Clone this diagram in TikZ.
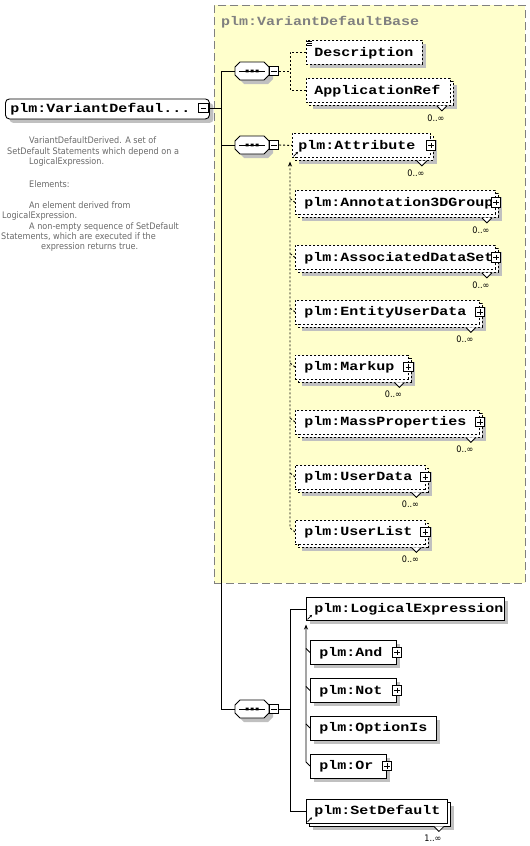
\documentclass[tikz,border=0pt]{standalone}
\usepackage{fontspec}
\newfontfamily\elfont[FakeStretch=1.2]{Liberation Mono}
\newfontfamily\smfont[FakeStretch=0.9]{DejaVu Sans}
\usetikzlibrary{shadows,arrows.meta}
\definecolor{grpfill}{RGB}{255,255,204}
\definecolor{grpline}{RGB}{128,128,128}
\definecolor{shd}{RGB}{192,192,192}
\definecolor{doctext}{RGB}{105,105,105}
\tikzset{
  elfnt/.style={font=\elfont\bfseries\fontsize{12.5pt}{14pt}\selectfont},
  el/.style={draw, fill=white, line width=0.9pt, rectangle, inner sep=0pt, anchor=north west, elfnt, text height=10pt, text depth=2.4pt},
  opt/.style={dash pattern=on 2pt off 2pt},
  shad/.style={drop shadow={shadow xshift=4pt, shadow yshift=-4pt, fill=shd, opacity=1, draw=none}},
  conn/.style={line width=0.9pt},
  pm/.style={draw, solid, fill=white, line width=0.8pt, minimum size=9.5pt, inner sep=0pt},
  plusbox/.style={pm, path picture={\draw[line width=0.8pt] ([xshift=2pt]path picture bounding box.west) -- ([xshift=-2pt]path picture bounding box.east) ([yshift=-2pt]path picture bounding box.north) -- ([yshift=2pt]path picture bounding box.south);}},
  minusbox/.style={pm, path picture={\draw[line width=0.8pt] ([xshift=2pt]path picture bounding box.west) -- ([xshift=-2pt]path picture bounding box.east);}},
  mult/.style={font=\smfont\fontsize{9pt}{10pt}\selectfont, inner sep=0pt},
  notch/.style={line width=0.8pt, fill=white, solid},
  doc/.style={font=\smfont\fontsize{9pt}{10pt}\selectfont, text=doctext, inner sep=0pt, anchor=base west},
  refmark/.style={line width=0.7pt, solid, -{Stealth[length=2.5pt,width=2.5pt]}},
  subarrow/.style={-{Stealth[length=5pt,width=4pt]}},
}
\newcommand\elbox[8][]{%
  \pgfmathsetmacro\bw{#5-#3}\pgfmathsetmacro\bh{#6-#4}\pgfmathsetmacro\tw{#5-#3-2*#7}%
  \node[el,minimum width=\bw pt,minimum height=\bh pt,inner xsep=#7pt,#1] (#2) at (#3,#4) {\makebox[\tw pt][l]{#8}};}
\newcommand\multibox[8][]{%
  \pgfmathsetmacro\bw{#5-#3}\pgfmathsetmacro\bh{#6-#4}\pgfmathsetmacro\tw{#5-#3-2*#7}%
  \node[el,shad,minimum width=\bw pt,minimum height=\bh pt,#1] (#2-bk) at (#3+3,#4+3) {};
  \node[el,minimum width=\bw pt,minimum height=\bh pt,inner xsep=#7pt,#1] (#2) at (#3,#4) {\makebox[\tw pt][l]{#8}};}
\newcommand\mlabel[2]{%
  \draw[notch] ([xshift=-17pt]#1-bk.south east) -- ++(5,5) -- ++(5,-5);
  \node[mult] (#1-n) at ([shift={(-15,15)}]#1.south east) {#2};}
\newcommand\refmark[1]{\draw[refmark] ([shift={(1.5,-1.5)}]#1.south west) -- ++(4.5,-4.5);}
\newcommand\seqnode[3]{%
  \fill[shd,shift={(4,4)}] (#2-12,#3-9) -- (#2+12,#3-9) -- (#2+17,#3-4) -- (#2+17,#3+4) -- (#2+12,#3+9) -- (#2-12,#3+9) -- (#2-17,#3+4) -- (#2-17,#3-4) -- cycle;
  \draw[fill=white,line width=0.9pt] (#2-12,#3-9) -- (#2+12,#3-9) -- (#2+17,#3-4) -- (#2+17,#3+4) -- (#2+12,#3+9) -- (#2-12,#3+9) -- (#2-17,#3+4) -- (#2-17,#3-4) -- cycle;
  \node[minimum width=34pt, minimum height=18pt, inner sep=0pt] (#1) at (#2,#3) {};
  \draw[line width=0.9pt] (#2-13,#3) -- (#2+13,#3);
  \fill (#2-6.5,#3-1.3) rectangle ++(3,2.6) (#2-1.5,#3-1.3) rectangle ++(3,2.6) (#2+3.5,#3-1.3) rectangle ++(3,2.6);
  \node[minusbox] (#1-m) at (#2+22,#3) {};}
\begin{document}
\begin{tikzpicture}[x=1pt,y=-1pt]
\useasboundingbox (0,0) rectangle (530,846);
% group
\node[draw=grpline, fill=grpfill, line width=0.9pt, dash pattern=on 8pt off 4pt, minimum width=311pt, minimum height=578pt, inner sep=0pt, anchor=north west] (grp) at (214,5) {};
\node[elfnt, text=grpline, anchor=base west, inner sep=0pt] (gtitle) at (221,25) {plm:VariantDefaultBase};
% root
\elbox[rounded corners=4pt,shad]{root}{5}{98.5}{209}{118.5}{5}{plm:VariantDefaul...}
\node[minusbox] (root-m) at (203.5,108) {};
% documentation
\node[doc] (d1) at (29,143) {VariantDefaultDerived. A set of};
\node[doc] (d2) at (7,154.5) {SetDefault Statements which depend on a};
\node[doc] (d3) at (29,164.5) {LogicalExpression.};
\node[doc] (d4) at (29,187) {Elements:};
\node[doc] (d5) at (29,208.5) {An element derived from};
\node[doc] (d6) at (2,218.5) {LogicalExpression.};
\node[doc] (d7) at (29,229.5) {A non-empty sequence of SetDefault};
\node[doc] (d8) at (1,239.5) {Statements, which are executed if the};
\node[doc] (d9) at (41,249.5) {expression returns true.};
% sequences
\seqnode{seq1}{252}{71}
\seqnode{seq2}{252}{145}
\seqnode{seq3}{252}{709}
% seq1 children
\elbox[opt,shad]{desc}{306}{40}{422}{64}{8}{Description}
\draw[line width=0.6pt] ([shift={(1,1)}]desc.north west) -- ++(5,0) ([shift={(1,3)}]desc.north west) -- ++(5,0) ([shift={(1,5)}]desc.north west) -- ++(5,0);
\multibox[opt]{appref}{306}{78}{450}{102}{8}{ApplicationRef}
\mlabel{appref}{0..∞}
% seq2 children
\multibox[opt]{attr}{292}{133}{430}{157}{6}{plm:Attribute}
\node[plusbox] (attr-p) at (attr.east) {};
\mlabel{attr}{0..∞}
\refmark{attr}
\multibox[opt]{ann}{295}{190}{495}{214}{9}{plm:Annotation3DGroup}
\node[plusbox] (ann-p) at (ann.east) {};
\mlabel{ann}{0..∞}
\multibox[opt]{assoc}{295}{245}{495}{269}{9}{plm:AssociatedDataSet}
\node[plusbox] (assoc-p) at (assoc.east) {};
\mlabel{assoc}{0..∞}
\multibox[opt]{ent}{295}{299.5}{479}{323.5}{9}{plm:EntityUserData}
\node[plusbox] (ent-p) at (ent.east) {};
\mlabel{ent}{0..∞}
\multibox[opt]{mark}{295}{354.5}{407.5}{378.5}{9}{plm:Markup}
\node[plusbox] (mark-p) at (mark.east) {};
\mlabel{mark}{0..∞}
\multibox[opt]{mass}{295}{409.5}{479}{433.5}{9}{plm:MassProperties}
\node[plusbox] (mass-p) at (mass.east) {};
\mlabel{mass}{0..∞}
\multibox[opt]{udata}{295}{464.5}{424.5}{488.5}{9}{plm:UserData}
\node[plusbox] (udata-p) at (udata.east) {};
\mlabel{udata}{0..∞}
\multibox[opt]{ulist}{295}{519.5}{424.5}{543.5}{9}{plm:UserList}
\node[plusbox] (ulist-p) at (ulist.east) {};
\mlabel{ulist}{0..∞}
% seq3 children
\elbox[shad]{logexp}{306}{597}{504}{620}{8}{plm:LogicalExpression}
\refmark{logexp}
\elbox[shad]{and}{310}{640}{396}{664}{9}{plm:And}
\node[plusbox] (and-p) at (and.east) {};
\elbox[shad]{not}{310}{678}{396}{702}{9}{plm:Not}
\node[plusbox] (not-p) at (not.east) {};
\elbox[shad]{optis}{310}{715.5}{436}{739.5}{9}{plm:OptionIs}
\elbox[shad]{or}{310}{753.5}{386}{777.5}{9}{plm:Or}
\node[plusbox] (or-p) at (or.east) {};
\multibox{setdef}{306}{798.5}{447}{822.5}{8}{plm:SetDefault}
\mlabel{setdef}{1..∞}
\refmark{setdef}
% coordinates
\coordinate (tr) at (221,0);
\coordinate (v1) at (290,0);
\coordinate (s1top) at (290,161.5);
\coordinate (s2top) at (306,624.5);
% trunk
\draw[conn] (root-m.east) -- (root-m.east -| tr);
\draw[conn] (seq1.west) -| (tr |- seq3.west) -- (seq3.west);
\draw[conn] (seq2.west) -- (tr |- seq2.west);
% seq1 connectors
\draw[conn,opt] (seq1-m.east) -- (v1 |- seq1-m.east);
\draw[conn,opt] (desc.west) -| (v1 |- appref.west) -- (appref.west);
% seq2 connectors
\draw[conn,opt] (seq2-m.east) -- (attr.west);
\draw[conn,opt,subarrow] (ulist.west) -- ++(-5,-4) -- (s1top);
\foreach \n in {ann,assoc,ent,mark,mass,udata}{\draw[conn,opt] (\n.west) -- ++(-5,-4);}
% seq3 connectors
\draw[conn] (seq3-m.east) -- (v1 |- seq3-m.east);
\draw[conn] (logexp.west) -| (v1 |- setdef.west) -- (setdef.west);
\draw[conn,subarrow] (or.west) -- ++(-4,-4) -- (s2top);
\foreach \n in {and,not,optis}{\draw[conn] (\n.west) -- ++(-4,-4);}
\end{tikzpicture}
\end{document}
